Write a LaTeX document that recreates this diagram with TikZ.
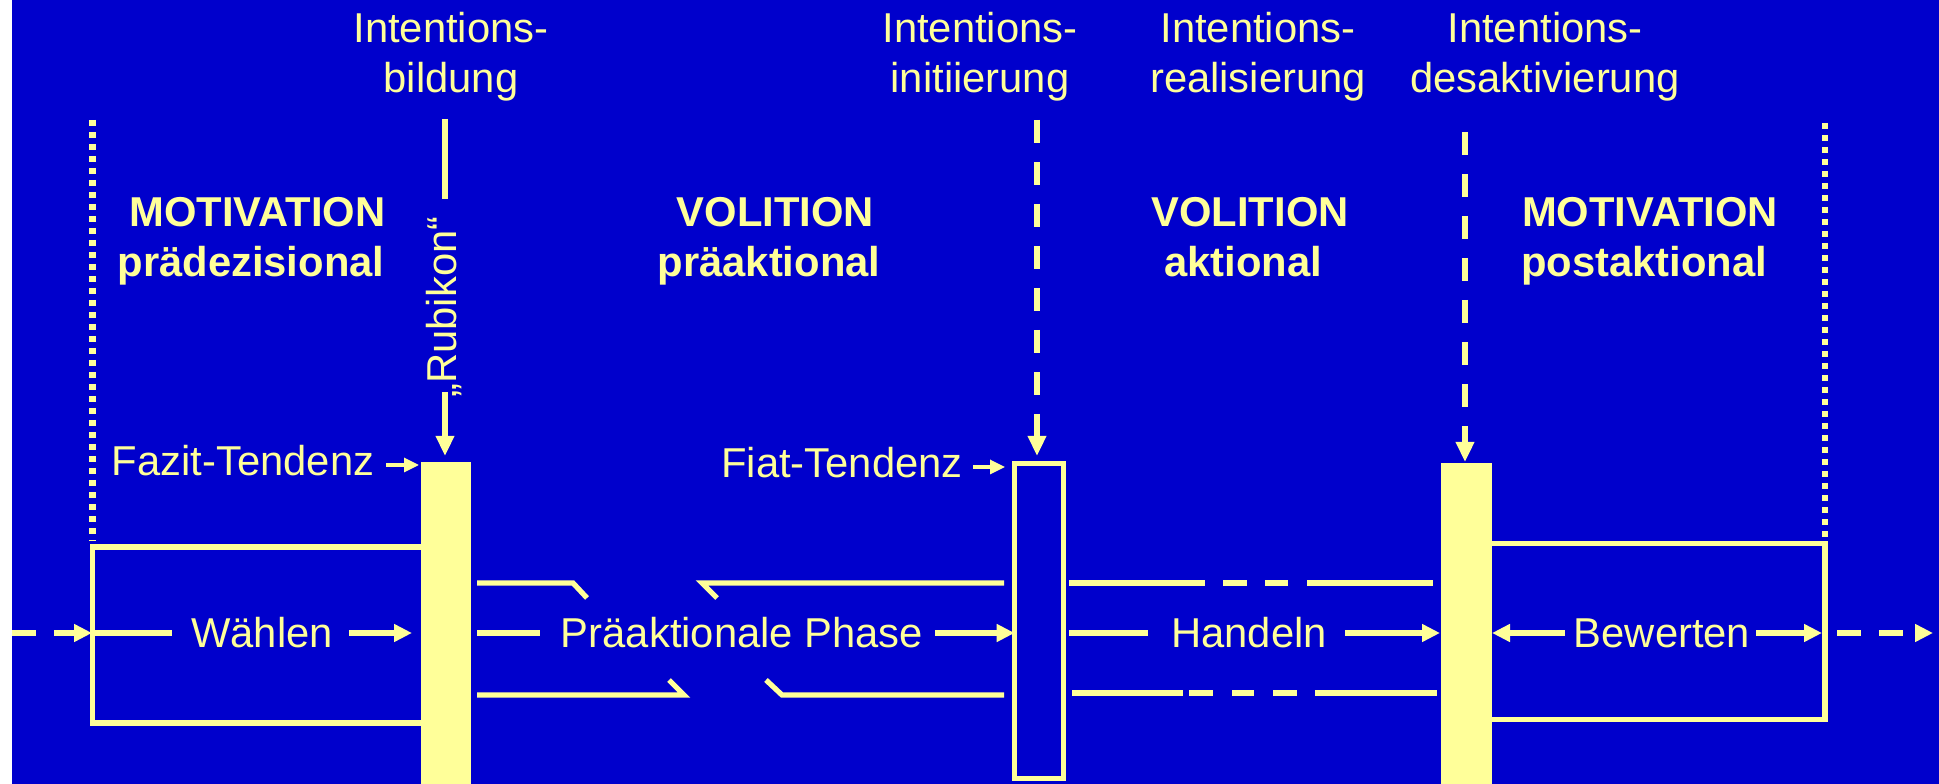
\documentclass[tikz,border=0pt]{standalone}
\usepackage{fontspec}
\setmainfont{Liberation Sans}
\usetikzlibrary{arrows.meta}
\definecolor{bg}{RGB}{0,0,204}
\definecolor{yel}{RGB}{255,255,153}
\begin{document}
\begin{tikzpicture}[x=0.4pt,y=-0.4pt,
  every node/.style={text=yel, inner sep=0pt, outer sep=0pt, font=\fontsize{16.7}{20}\selectfont},
  lbl/.style={anchor=base},
  boldlbl/.style={anchor=base, font=\fontsize{16.7}{20}\selectfont\bfseries},
  ln/.style={draw=yel, line width=2.1pt, line join=miter},
  arr/.style={ln, -{Triangle[length=7.2pt,width=6.8pt]}},
  sarr/.style={draw=yel, line width=1.3pt, -{Triangle[length=6pt,width=5.6pt]}},
  varr/.style={draw=yel, line width=2.3pt, -{Triangle[length=8pt,width=7pt]}},
  vdash/.style={dash pattern=on 9.2pt off 7.6pt},
  hdash/.style={dash pattern=on 9.6pt off 7.2pt},
  dotl/.style={draw=yel, line width=2.5pt, dash pattern=on 2.4pt off 2.4pt},
  solidbar/.style={fill=yel, draw=none},
  hollowbar/.style={fill=bg, draw=yel, line width=2.1pt},
]
\useasboundingbox (0,0) rectangle (1939,784);
\fill[white] (0,0) rectangle (12,784);
\fill[bg] (12,0) rectangle (1939,784);

% bars
\node[solidbar, minimum width=20pt, minimum height=128.8pt] (rub) at (446,623) {};
\node[hollowbar, minimum width=19.5pt, minimum height=125.9pt] (fiat) at (1039,621) {};
\node[solidbar, minimum width=20.4pt, minimum height=128.4pt] (desakt) at (1466.5,623.5) {};

% top labels
\node[lbl] (ib1) at (451,43) {Intentions-};
\node[lbl] (ib2) at (451,93) {bildung};
\node[lbl] (ii1) at (980,43) {Intentions-};
\node[lbl] (ii2) at (980,93) {initiierung};
\node[lbl] (ir1) at (1258,43) {Intentions-};
\node[lbl] (ir2) at (1258,93) {realisierung};
\node[lbl] (id1) at (1545,43) {Intentions-};
\node[lbl] (id2) at (1545,93) {desaktivierung};

% phase labels
\node[boldlbl] (m1a) at (257.5,227) {MOTIVATION};
\node[boldlbl] (m1b) at (251,277) {prädezisional};
\node[boldlbl] (v1a) at (775.5,227) {VOLITION};
\node[boldlbl] (v1b) at (769,277) {präaktional};
\node[boldlbl] (v2a) at (1250,227) {VOLITION};
\node[boldlbl] (v2b) at (1243,277) {aktional};
\node[boldlbl] (m2a) at (1650,227) {MOTIVATION};
\node[boldlbl] (m2b) at (1644,277) {postaktional};

% tendencies
\node[lbl] (fazit) at (243,476) {Fazit-Tendenz};
\node[lbl] (fiatt) at (842,478) {Fiat-Tendenz};
\coordinate (fz) at (386,465);
\draw[sarr] (fz) -- (419,465);
\coordinate (ft) at (973,467);
\draw[sarr] (ft) -- (1005,467);

% Rubikon
\coordinate (rtop) at (445,119);
\coordinate (rmid) at (445,199);
\draw[draw=yel, line width=2.3pt] (rtop) -- (rmid);
\node[rotate=90, anchor=base] (rubikon) at (456,307) {„Rubikon“};
\coordinate (rarr) at (445,392);
\draw[varr] (rarr) -- (445,456) coordinate (rtip);

% dashed verticals
\coordinate (d1top) at (1037,120);
\draw[varr, vdash] (d1top) -- (1037,456) coordinate (d1tip);
\coordinate (d2top) at (1465,132);
\draw[varr, vdash] (d2top) -- (1465,462) coordinate (d2tip);

% dotted verticals
\coordinate (l1) at (92.5,120);
\coordinate (l2) at (92.5,547);
\draw[dotl] (l1) -- (92.5,541);
\coordinate (r1) at (1825,123);
\coordinate (r2) at (1825,543.5);
\draw[dotl] (r1) -- (1825,537);

% boxes
\draw[ln] (rub.west |- 0,547) -- (l2) -- (92.5,723) -- (rub.west |- 0,723);
\draw[ln] (desakt.east |- 0,543.5) -- (r2) -- (1825,719.5) -- (desakt.east |- 0,719.5);

% middle row
\node[lbl] (wahl) at (262,648) {Wählen};
\node[lbl] (prae) at (742,648) {Präaktionale Phase};
\node[lbl] (hand) at (1249,648) {Handeln};
\node[lbl] (bew) at (1662,648) {Bewerten};

\coordinate (in) at (12,633);
\draw[ln, hdash, -{Triangle[length=7.2pt,width=6.8pt]}] (in) -- (92,633);
\draw[ln] (92.5,633) -- (172,633);
\draw[arr] (349,633) -- (412,633);
\draw[ln] (477,633) -- (540,633);
\draw[arr] (935,633) -- (fiat.west |- 0,633);
\draw[ln] (1069,633) -- (1148,633);
\draw[arr] (1345,633) -- (1440,633);
\draw[arr] (1565,633) -- (desakt.east |- 0,633);
\draw[arr] (1756,633) -- (1822,633);
\coordinate (out) at (1933,633);
\draw[ln, hdash, -{Triangle[length=7.2pt,width=6.8pt]}] (1837,633) -- (out);

% broken upper / lower lines (praeaktional)
\draw[ln] (477,583) -- (573,583) -- (587,598);
\draw[ln] (717,598) -- (702,583) -- (1004,583);
\draw[ln] (477,695) -- (684,695) -- (669,680);
\draw[ln] (766,680) -- (782,695) -- (1004,695);

% upper / lower lines (aktional)
\draw[ln, dash pattern=on 54.4pt off 7.2pt on 9.6pt off 7.2pt on 9.2pt off 7.6pt on 80pt] (1069,583) -- (1433,583);
\draw[ln, dash pattern=on 44.4pt off 2.4pt on 9.6pt off 7.6pt on 8.8pt off 7.6pt on 9.6pt off 7.2pt on 80pt] (1072,693) -- (1437,693);
\end{tikzpicture}
\end{document}
